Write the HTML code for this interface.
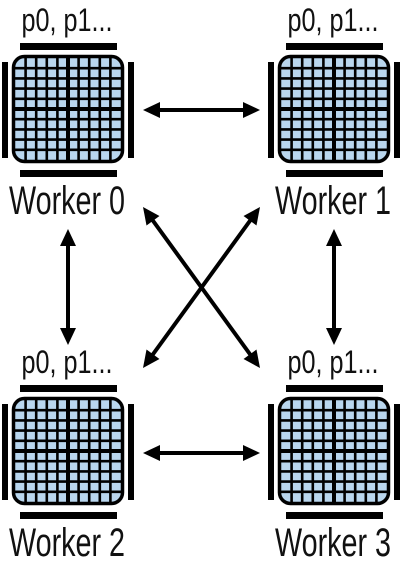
<!DOCTYPE html>
<html><head><meta charset="utf-8"><style>
html,body{margin:0;padding:0;background:#fff}
svg{display:block}
text{font-family:"Liberation Sans Narrow","Liberation Sans",sans-serif;fill:#111}
</style></head><body>
<svg id="s" width="402" height="568" viewBox="0 0 402 568">
<g id="arrows"></g>
</svg>
<script>
const workers=[{n:"Worker 0",dx:0,dy:0},{n:"Worker 1",dx:266,dy:0},{n:"Worker 2",dx:0,dy:342},{n:"Worker 3",dx:266,dy:342}];
const links=[[143,110,260,110,'arrow-w0-w1'],[143,453,260,453,'arrow-w2-w3'],[68,229,68,345,'arrow-w0-w2'],[334,229,334,345,'arrow-w1-w3'],[143,207,260,368,'arrow-w0-w3'],[260,207,143,368,'arrow-w1-w2']];
const NS="http://www.w3.org/2000/svg";
const svg=document.getElementById('s');
function mk(t,a,p){const e=document.createElementNS(NS,t);for(const k in a)e.setAttribute(k,a[k]);p.appendChild(e);return e;}
const ag=document.getElementById('arrows');
links.forEach(l=>{
  const [x1,y1,x2,y2,name]=l;
  const dx=x2-x1,dy=y2-y1,L=Math.hypot(dx,dy),ux=dx/L,uy=dy/L,px=-uy,py=ux;
  const H=17,W=8;
  const g=mk('g',{},ag);
  
  
  mk('line',{x1:x1+ux*H*0.8,y1:y1+uy*H*0.8,x2:x2-ux*H*0.8,y2:y2-uy*H*0.8,stroke:'#000','stroke-width':4},g);
  [[x1,y1,1],[x2,y2,-1]].forEach(([tx,ty,s])=>{
    const bx=tx+ux*H*s,by=ty+uy*H*s;
    mk('polygon',{points:`${tx},${ty} ${bx+px*W},${by+py*W} ${bx-px*W},${by-py*W}`,fill:'#000'},g);
  });
});
workers.forEach((w,i)=>{
  const g=mk('g',{transform:`translate(${w.dx},${w.dy})`},svg);
  
  
  const lab=mk('text',{x:67,y:31,'font-size':32,'text-anchor':'middle',textLength:91,lengthAdjust:'spacingAndGlyphs'},g);
  lab.textContent="p0, p1...";
  
  
  [[20,43,97,7],[20,170,97,7],[2,62,6,96],[128,62,6,96]].forEach(b=>{
    const r=mk('rect',{x:b[0],y:b[1],width:b[2],height:b[3],fill:'#000'},g);
    
    
  });
  const chip=mk('rect',{x:13.5,y:56.5,width:109,height:105,rx:11,fill:'#b9d6ee',stroke:'#000','stroke-width':3.5},g);
  
  
  const gl=mk('g',{stroke:'#000'},g);
  for(let k=1;k<10;k++){
    const x=15+k*10.6, y=58+k*10.2, sw=(k==5)?4:2.6;
    mk('line',{x1:x,y1:57,x2:x,y2:161,'stroke-width':sw},gl);
    mk('line',{x1:14,y1:y,x2:122,y2:y,'stroke-width':sw},gl);
  }
  const wl=mk('text',{x:67,y:214,'font-size':40,'text-anchor':'middle',textLength:116,lengthAdjust:'spacingAndGlyphs'},g);
  wl.textContent=w.n;
  
  
});
</script>
</body></html>
